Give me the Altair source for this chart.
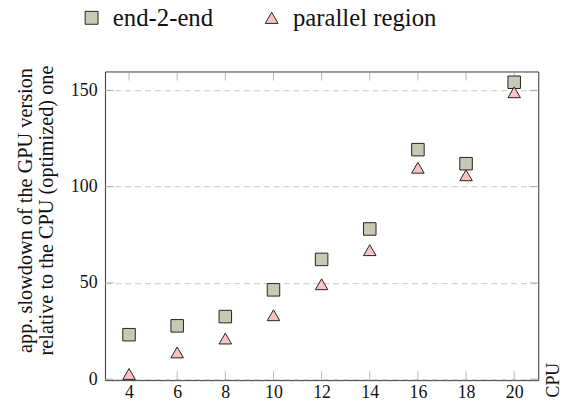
import altair as alt
import pandas as pd

cpus = [4, 6, 8, 10, 12, 14, 16, 18, 20]
end2end = [23.1, 27.7, 32.5, 46.4, 62.2, 78.0, 119.2, 111.9, 154.2]
parallel = [2.7, 13.9, 21.1, 33.2, 49.3, 67.0, 109.8, 105.9, 149.0]
series_names = ["end-2-end", "parallel region"]
y_ticks = [0, 50, 100, 150]

FONT = "Liberation Serif"
W, H = 438, 312

df = pd.DataFrame(
    {"cpu": cpus * 2,
     "value": end2end + parallel,
     "series": [series_names[0]] * len(cpus) + [series_names[1]] * len(cpus)}
)
xt = pd.DataFrame({"cpu": cpus})
yt = pd.DataFrame({"value": y_ticks})

xs = alt.Scale(domain=[3, 21], nice=False, zero=False)
ys = alt.Scale(domain=[-0.5, 159.8], nice=False, zero=False)

legend = alt.Legend(title=None, orient="none", direction="horizontal",
                    legendX=-26, legendY=-67, labelFont=FONT, labelFontSize=25,
                    labelLimit=400, labelColor="#111", symbolSize=170, symbolStrokeWidth=1,
                    symbolStrokeColor="#222", columnPadding=46, labelOffset=9)

points = alt.Chart(df).mark_point(filled=True, size=160, strokeWidth=1, stroke="#222", opacity=1).encode(
    x=alt.X("cpu:Q", scale=xs,
            axis=alt.Axis(values=cpus, title="CPU", grid=False, ticks=False, domain=False,
                          labelFont=FONT, labelFontSize=18, labelColor="#111", labelPadding=4,
                          titleFont=FONT, titleFontSize=18, titleFontWeight="normal", titleColor="#111",
                          titleAngle=270, titleX=458, titleY=17, titleAlign="left",
                          titleBaseline="alphabetic")),
    y=alt.Y("value:Q", scale=ys,
            axis=alt.Axis(values=y_ticks, grid=True, gridDash=[6, 4], gridColor="#c8c8c8",
                          ticks=False, domain=False,
                          title=["app. slowdown of the GPU version", "relative to the CPU (optimized) one"],
                          labelFont=FONT, labelFontSize=18, labelColor="#111", labelPadding=8,
                          titleFont=FONT, titleFontSize=20.5, titleFontWeight="normal", titleColor="#111",
                          titleLineHeight=21, titleAngle=270, titleX=-74, titleY=140,
                          titleAlign="center", titleBaseline="alphabetic")),
    shape=alt.Shape("series:N", scale=alt.Scale(domain=series_names, range=["square", "triangle-up"]),
                    legend=legend),
    color=alt.Color("series:N", scale=alt.Scale(domain=series_names, range=["#c9c9b3", "#f9c3c3"]),
                    legend=legend),
)

tick_color = "#999999"
top_ticks = alt.Chart(xt).mark_tick(orient="vertical", size=9, thickness=1, color=tick_color).encode(
    x=alt.X("cpu:Q", scale=xs), y=alt.value(4.5))
bot_ticks = alt.Chart(xt).mark_tick(orient="vertical", size=9, thickness=1, color=tick_color).encode(
    x=alt.X("cpu:Q", scale=xs), y=alt.value(H - 4.5))
left_ticks = alt.Chart(yt).mark_tick(orient="horizontal", size=9, thickness=1, color=tick_color).encode(
    y=alt.Y("value:Q", scale=ys), x=alt.value(4.5))
right_ticks = alt.Chart(yt).mark_tick(orient="horizontal", size=9, thickness=1, color=tick_color).encode(
    y=alt.Y("value:Q", scale=ys), x=alt.value(W - 4.5))

chart = alt.layer(top_ticks, bot_ticks, left_ticks, right_ticks, points).properties(
    width=W, height=H,
    autosize=alt.AutoSizeParams(type="none"),
    padding={"left": 98, "top": 62, "right": 25, "bottom": 26},
).configure(
    background="white", font=FONT
).configure_view(
    stroke="#333333", strokeWidth=1
)

chart.save("out.html", embed_options={"renderer": "svg", "actions": False})
